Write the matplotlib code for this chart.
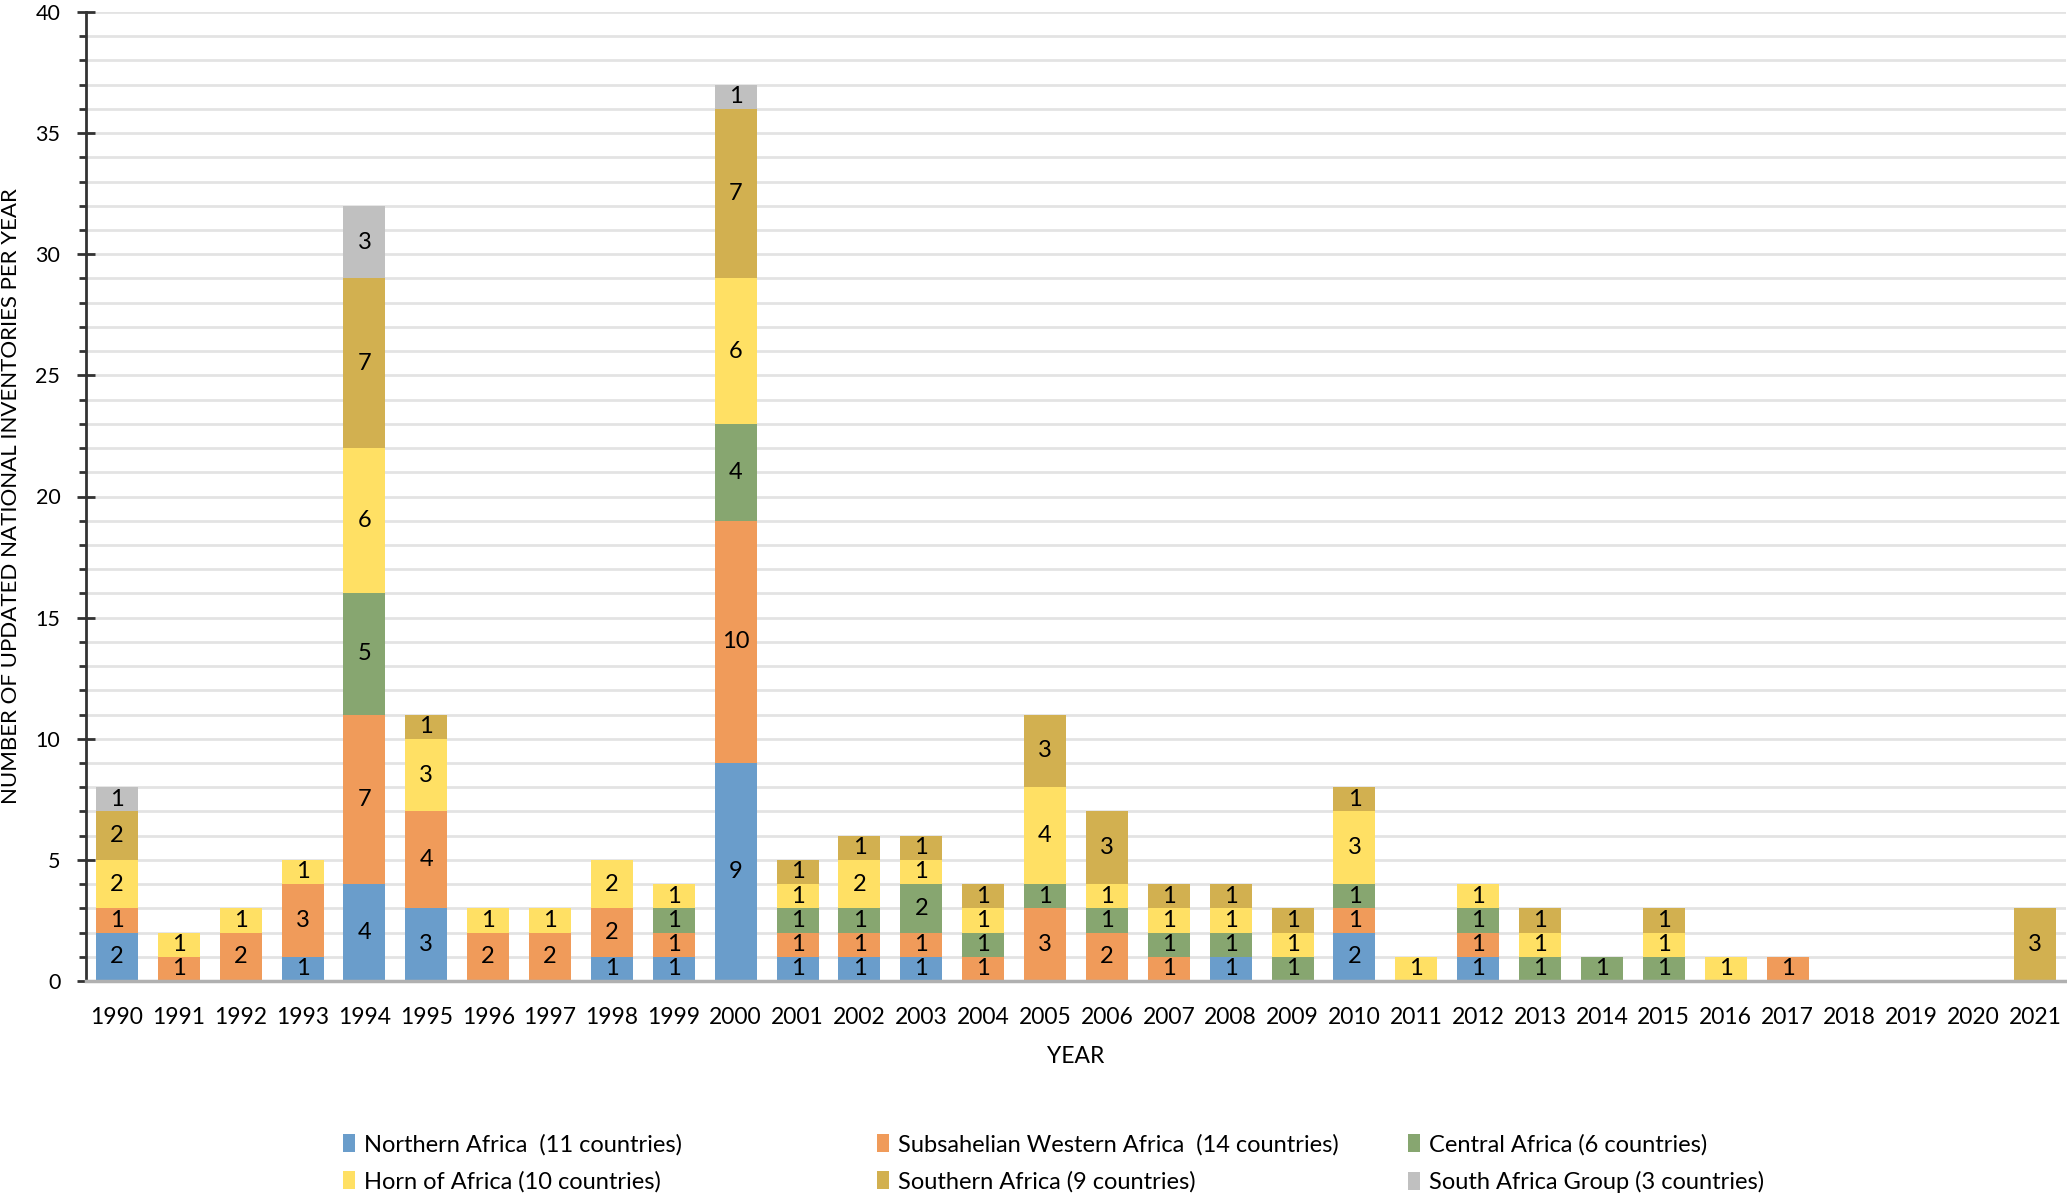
import matplotlib
matplotlib.use("Agg")
import matplotlib.pyplot as plt
from matplotlib import font_manager
from matplotlib.ticker import MultipleLocator
import numpy as np

# ---------------- data ----------------
years = [str(y) for y in range(1990, 2022)]
northern = [2, 0, 0, 1, 4, 3, 0, 0, 1, 1, 9, 1, 1, 1, 0, 0, 0, 0, 1, 0, 2, 0, 1, 0, 0, 0, 0, 0, 0, 0, 0, 0]
subsahelian = [1, 1, 2, 3, 7, 4, 2, 2, 2, 1, 10, 1, 1, 1, 1, 3, 2, 1, 0, 0, 1, 0, 1, 0, 0, 0, 0, 1, 0, 0, 0, 0]
central = [0, 0, 0, 0, 5, 0, 0, 0, 0, 1, 4, 1, 1, 2, 1, 1, 1, 1, 1, 1, 1, 0, 1, 1, 1, 1, 0, 0, 0, 0, 0, 0]
horn = [2, 1, 1, 1, 6, 3, 1, 1, 2, 1, 6, 1, 2, 1, 1, 4, 1, 1, 1, 1, 3, 1, 1, 1, 0, 1, 1, 0, 0, 0, 0, 0]
southern = [2, 0, 0, 0, 7, 1, 0, 0, 0, 0, 7, 1, 1, 1, 1, 3, 3, 1, 1, 1, 1, 0, 0, 1, 0, 1, 0, 0, 0, 0, 0, 3]
sa_group = [1, 0, 0, 0, 3, 0, 0, 0, 0, 0, 1, 0, 0, 0, 0, 0, 0, 0, 0, 0, 0, 0, 0, 0, 0, 0, 0, 0, 0, 0, 0, 0]

series_names = ["Northern Africa  (11 countries)",
                "Subsahelian Western Africa  (14 countries)",
                "Central Africa (6 countries)",
                "Horn of Africa (10 countries)",
                "Southern Africa (9 countries)",
                "South Africa Group (3 countries)"]
series_values = [northern, subsahelian, central, horn, southern, sa_group]
colors = ["#6a9dcb", "#f09b5a", "#87a670", "#ffe064", "#d2b050", "#c0c0c0"]

# ---------------- font ----------------
available = {f.name for f in font_manager.fontManager.ttflist}
fam = "Lato" if "Lato" in available else "DejaVu Sans"
plt.rcParams["font.family"] = [fam, "DejaVu Sans"]
plt.rcParams["text.color"] = "black"

W, H = 2067, 1195
fig = plt.figure(figsize=(W / 100, H / 100), dpi=100)
ax = fig.add_axes([86 / W, 1 - 981 / H, (2066 - 86) / W, (981 - 12) / H])

x = np.arange(len(years))
bottom = np.zeros(len(years))
handles = []
for name, vals, col in zip(series_names, series_values, colors):
    vals = np.array(vals, dtype=float)
    cont = ax.bar(x, vals, 0.68, bottom=bottom, color=col, label=name, zorder=3)
    labels = [str(int(v)) if v > 0 else "" for v in vals]
    ax.bar_label(cont, labels=labels, label_type="center", fontsize=17, color="black", zorder=4)
    handles.append(cont)
    bottom += vals

ax.set_xlim(-0.5, len(years) - 0.5)
ax.set_ylim(0, 40)
ax.set_xticks(x)
ax.set_xticklabels(years, fontsize=16.5, color="black")
ax.tick_params(axis="x", length=0, pad=19)
ax.yaxis.set_major_locator(MultipleLocator(5))
ax.yaxis.set_minor_locator(MultipleLocator(1))
ax.tick_params(axis="y", which="major", direction="inout", length=13, width=2, labelsize=15.5, pad=12,
               color="#333333", labelcolor="black")
ax.tick_params(axis="y", which="minor", direction="out", length=5, width=2, color="#333333")
ax.grid(axis="y", which="both", color="#e3e3e3", lw=2, zorder=0)

for s in ["top", "right"]:
    ax.spines[s].set_visible(False)
ax.spines["left"].set_color("#333333")
ax.spines["left"].set_linewidth(2)
ax.spines["left"].set_zorder(5)
ax.spines["bottom"].set_color("#b0b0b0")
ax.spines["bottom"].set_linewidth(2.5)
ax.spines["bottom"].set_zorder(5)

ax.set_ylabel("NUMBER OF UPDATED NATIONAL INVENTORIES PER YEAR", fontsize=16)
ax.yaxis.set_label_coords(-0.033, 0.5)
ax.set_xlabel("YEAR", fontsize=16.5)
ax.xaxis.set_label_coords(0.5, -(1056 - 981 - 10) / (981 - 12))

# legend: three columns of two entries each, placed at fixed column positions
col_x = [343 / W, 877 / W, 1408 / W]
pairs = [(0, 3), (1, 4), (2, 5)]
for cx, (i, j) in zip(col_x, pairs):
    leg = fig.legend([handles[i], handles[j]], [series_names[i], series_names[j]],
                     loc="upper left", bbox_to_anchor=(cx, 1 - 1134 / H),
                     frameon=False, fontsize=17, borderpad=0, borderaxespad=0,
                     handlelength=0.5, handleheight=0.8, handletextpad=0.4,
                     labelspacing=0.65)

fig.savefig("out.png", dpi=100)
